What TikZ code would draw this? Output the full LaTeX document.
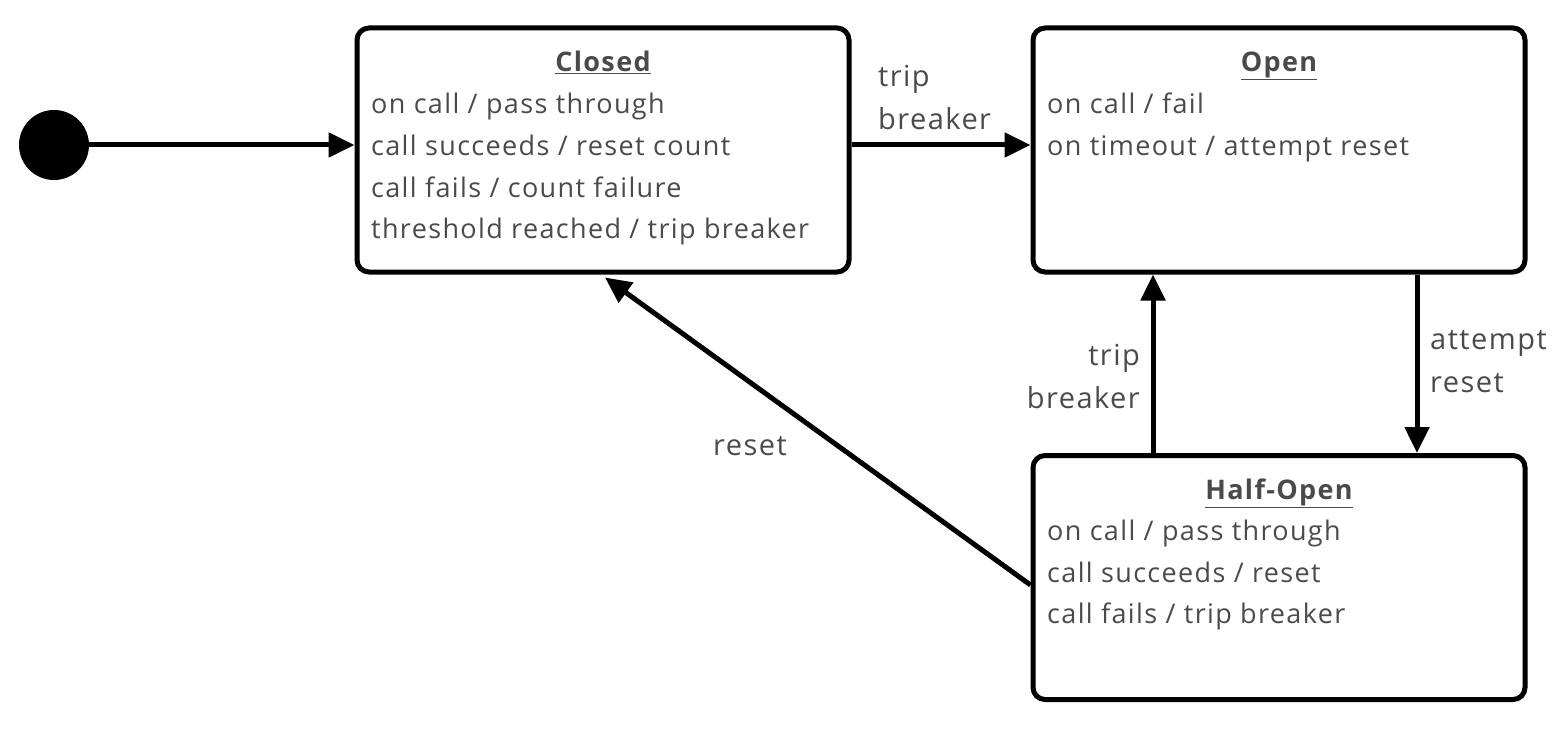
\documentclass[tikz,border=0pt]{standalone}
\usepackage{fontspec}
\setmainfont{Open Sans}[LetterSpace=5]
\usetikzlibrary{arrows.meta}
\definecolor{txt}{HTML}{4A4A4A}
\begin{document}
\begin{tikzpicture}[x=1pt,y=-1pt,
  statebox/.style={draw=black,line width=5pt,rounded corners=12pt,minimum width=492pt,minimum height=244pt,inner sep=0pt},
  body/.style={text=txt,font=\fontsize{27}{30}\selectfont,inner sep=0pt,anchor=mid west},
  title/.style={text=txt,font=\fontsize{27}{30}\selectfont\bfseries,inner sep=0pt,anchor=mid},
  lbl/.style={text=txt,font=\fontsize{29}{30}\selectfont,inner sep=0pt},
  trans/.style={line width=5pt,-{Triangle[length=26pt,width=24pt]}}]
\useasboundingbox (0,0) rectangle (1568,730);
% states
\node[statebox] (closed) at (603,150) {};
\node[statebox] (open) at (1279,150) {};
\node[statebox] (half) at (1279,577.5) {};
\node[circle,fill=black,minimum size=70pt,inner sep=0pt] (init) at (54,145) {};
% texts
\node[title] (tc) at (603,69) {\underline{Closed}};
\node[body] (c1) at (371,111) {on call / pass through};
\node[body] (c2) at (371,153) {call succeeds / reset count};
\node[body] (c3) at (371,195) {call fails / count failure};
\node[body] (c4) at (371,236) {threshold reached / trip breaker};
\node[title] (to) at (1279,69) {\underline{Open}};
\node[body] (o1) at (1047,111) {on call / fail};
\node[body] (o2) at (1047,153) {on timeout / attempt reset};
\node[title] (th) at (1279,497) {\underline{Half-Open}};
\node[body] (h1) at (1047,538) {on call / pass through};
\node[body] (h2) at (1047,580) {call succeeds / reset};
\node[body] (h3) at (1047,621) {call fails / trip breaker};
% transitions
\draw[trans] (init) -- ([yshift=5pt]closed.west);
\draw[trans] ([yshift=5pt]closed.east) -- ([yshift=5pt]open.west);
\draw[trans] ([xshift=138pt]open.south) -- ([xshift=138pt]half.north);
\draw[trans] ([xshift=-126pt]half.north) -- ([xshift=-126pt]open.south);
\draw[trans] ([yshift=-7.5pt]half.west) -- ([xshift=2pt,yshift=-3pt]closed.south);
% labels
\node[lbl,anchor=mid west] (l1a) at (878,84) {trip};
\node[lbl,anchor=mid west] (l1b) at (878,127) {breaker};
\node[lbl,anchor=mid west] (l2a) at (1430,347) {attempt};
\node[lbl,anchor=mid west] (l2b) at (1430,390) {reset};
\node[lbl,anchor=mid east] (l3a) at (1140,363) {trip};
\node[lbl,anchor=mid east] (l3b) at (1140,406) {breaker};
\node[lbl,anchor=mid west] (l4) at (713,453) {reset};
\end{tikzpicture}
\end{document}
